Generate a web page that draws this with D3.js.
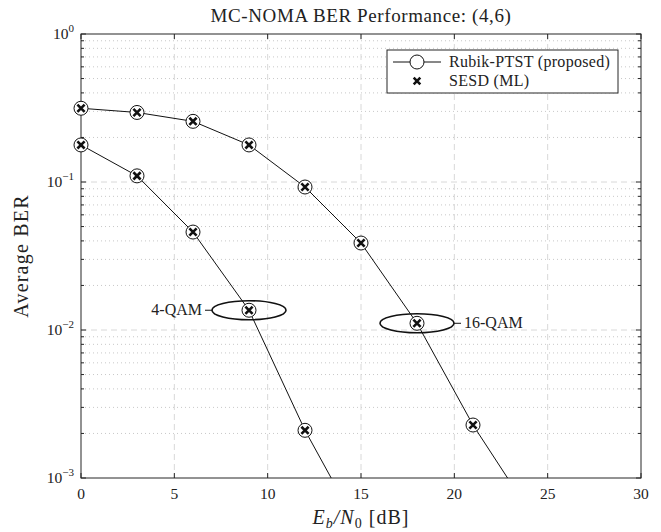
<!DOCTYPE html>
<html>
<head>
<script src="https://d3js.org/d3.v7.min.js"></script>
<style>
  body { margin: 0; background: #fff; }
  text { font-family: "Liberation Serif", "DejaVu Serif", serif; fill: #222; }
</style>
</head>
<body>
<svg width="661" height="532" id="mainSvg"></svg>
<script>
// data
const snr = [0, 3, 6, 9, 12, 15, 18, 21, 24];
const ber4qam = [0.178, 0.110, 0.0459, 0.0136, 0.0021, 0.00043];
const ber16qam = [0.315, 0.295, 0.257, 0.178, 0.0925, 0.0387, 0.0111, 0.00228, 0.0006];
const xTicks = [0, 5, 10, 15, 20, 25, 30];
const yDecades = [-3, -2, -1, 0];
const legendLabels = ["Rubik-PTST (proposed)", "SESD (ML)"];
// ellipse annotations: [snr, ber, label, side]
const notes = [[9, 0.0136, "4-QAM", "left"], [18, 0.0111, "16-QAM", "right"]];

const svg = d3.select("#mainSvg");
const margin = { top: 34, right: 20, bottom: 54, left: 81 };
const width = 661 - margin.left - margin.right;
const height = 532 - margin.top - margin.bottom;

const x = d3.scaleLinear().domain([0, 30]).range([margin.left, margin.left + width]);
const y = d3.scaleLog().domain([1e-3, 1]).range([margin.top + height, margin.top]);

svg.append("clipPath").attr("id", "clip")
  .append("rect").attr("x", margin.left).attr("y", margin.top)
  .attr("width", width).attr("height", height);

const grid = svg.append("g");
// minor y grid
const minorY = [];
yDecades.slice(0, 3).forEach(d => { for (let k = 2; k <= 9; k++) minorY.push(k * Math.pow(10, d)); });
grid.selectAll(".minY").data(minorY).join("line")
  .attr("x1", margin.left).attr("x2", margin.left + width)
  .attr("y1", d => y(d)).attr("y2", d => y(d))
  .attr("stroke", "#c8c8c8").attr("stroke-width", 1).attr("stroke-dasharray", "1,3");
// major y grid
grid.selectAll(".majY").data(yDecades.slice(1, 3)).join("line")
  .attr("x1", margin.left).attr("x2", margin.left + width)
  .attr("y1", d => y(Math.pow(10, d))).attr("y2", d => y(Math.pow(10, d)))
  .attr("stroke", "#d8d8d8").attr("stroke-width", 1).attr("stroke-dasharray", "6,4");
// major x grid
grid.selectAll(".majX").data(xTicks.slice(1, -1)).join("line")
  .attr("x1", d => x(d)).attr("x2", d => x(d))
  .attr("y1", margin.top).attr("y2", margin.top + height)
  .attr("stroke", "#d8d8d8").attr("stroke-width", 1).attr("stroke-dasharray", "6,4");

// axes box and ticks
const ax = svg.append("g").attr("stroke", "#262626").attr("stroke-width", 1);
ax.append("rect").attr("x", margin.left).attr("y", margin.top)
  .attr("width", width).attr("height", height).attr("fill", "none");
xTicks.forEach(t => {
  ax.append("line").attr("x1", x(t)).attr("x2", x(t)).attr("y1", margin.top + height).attr("y2", margin.top + height - 5);
  ax.append("line").attr("x1", x(t)).attr("x2", x(t)).attr("y1", margin.top).attr("y2", margin.top + 5);
});
yDecades.forEach(d => {
  const yy = y(Math.pow(10, d));
  ax.append("line").attr("x1", margin.left).attr("x2", margin.left + 5).attr("y1", yy).attr("y2", yy);
  ax.append("line").attr("x1", margin.left + width).attr("x2", margin.left + width - 5).attr("y1", yy).attr("y2", yy);
});
minorY.forEach(v => {
  const yy = y(v);
  ax.append("line").attr("x1", margin.left).attr("x2", margin.left + 3).attr("y1", yy).attr("y2", yy);
  ax.append("line").attr("x1", margin.left + width).attr("x2", margin.left + width - 3).attr("y1", yy).attr("y2", yy);
});

// tick labels
svg.selectAll(".xl").data(xTicks).join("text")
  .attr("x", d => x(d)).attr("y", margin.top + height + 21)
  .attr("text-anchor", "middle").attr("font-size", 15.5).text(d => d);
const yl = svg.selectAll(".yl").data(yDecades).join("text")
  .attr("x", margin.left - 7).attr("y", d => y(Math.pow(10, d)) + 5)
  .attr("text-anchor", "end").attr("font-size", 15.5);
yl.append("tspan").text("10");
yl.append("tspan").attr("dy", -7).attr("font-size", 11).text(d => d === 0 ? "0" : "\u2212" + (-d));

// title and axis labels
svg.append("text").attr("x", margin.left + width / 2).attr("y", 22)
  .attr("text-anchor", "middle").attr("font-size", 19).attr("letter-spacing", 0.6)
  .text("MC-NOMA BER Performance: (4,6)");
const xl = svg.append("text").attr("x", margin.left + width / 2).attr("y", 524)
  .attr("text-anchor", "middle").attr("font-size", 20).attr("letter-spacing", 1);
xl.append("tspan").attr("font-style", "italic").text("E");
xl.append("tspan").attr("font-style", "italic").attr("font-size", 14).attr("dy", 4).text("b");
xl.append("tspan").attr("dy", -4).attr("font-style", "italic").text("/N");
xl.append("tspan").attr("font-size", 14).attr("dy", 4).text("0");
xl.append("tspan").attr("dy", -4).text(" [dB]");
svg.append("text").attr("transform", `translate(28,${margin.top + height / 2}) rotate(-90)`)
  .attr("text-anchor", "middle").attr("font-size", 20).attr("letter-spacing", 1.2)
  .text("Average BER");

// curves
const plot = svg.append("g").attr("clip-path", "url(#clip)");
const line = d3.line().x(d => x(d[0])).y(d => y(d[1]));
const series = [ber4qam, ber16qam].map(s => s.map((v, i) => [snr[i], v]));
series.forEach(s => {
  plot.append("path").datum(s).attr("d", line)
    .attr("fill", "none").attr("stroke", "#111").attr("stroke-width", 1);
});
const visible = series.flat().filter(d => d[1] >= 1e-3);
const cross = (g, cx, cy, r) => {
  g.append("path").attr("d", `M${cx - r},${cy - r}L${cx + r},${cy + r}M${cx - r},${cy + r}L${cx + r},${cy - r}`)
    .attr("stroke", "#111").attr("stroke-width", 2.6).attr("fill", "none");
};
visible.forEach(d => {
  svg.append("circle").attr("cx", x(d[0])).attr("cy", y(d[1])).attr("r", 7)
    .attr("fill", "#fff").attr("stroke", "#111").attr("stroke-width", 1);
  cross(svg, x(d[0]), y(d[1]), 3.6);
});

// ellipse annotations
notes.forEach(n => {
  const cx = x(n[0]), cy = y(n[1]);
  svg.append("ellipse").attr("cx", cx).attr("cy", cy).attr("rx", 37).attr("ry", 9.5)
    .attr("fill", "none").attr("stroke", "#111").attr("stroke-width", 1.6);
  const dir = n[3] === "left" ? -1 : 1;
  svg.append("line").attr("x1", cx + dir * 37).attr("x2", cx + dir * 44)
    .attr("y1", cy).attr("y2", cy).attr("stroke", "#111").attr("stroke-width", 1);
  svg.append("text").attr("x", cx + dir * 47).attr("y", cy + 5)
    .attr("text-anchor", dir < 0 ? "end" : "start").attr("font-size", 16).text(n[2]);
});

// legend
const lg = svg.append("g");
lg.append("rect").attr("x", 387).attr("y", 50).attr("width", 231).attr("height", 43)
  .attr("fill", "#fff").attr("stroke", "#262626").attr("stroke-width", 1);
lg.append("line").attr("x1", 393).attr("x2", 441).attr("y1", 62).attr("y2", 62)
  .attr("stroke", "#111").attr("stroke-width", 1);
lg.append("circle").attr("cx", 417).attr("cy", 62).attr("r", 7)
  .attr("fill", "#fff").attr("stroke", "#111").attr("stroke-width", 1);
cross(lg, 417, 81, 3.3);
lg.selectAll(".lt").data(legendLabels).join("text")
  .attr("x", 449).attr("y", (d, i) => 67 + i * 19).attr("font-size", 16).attr("letter-spacing", 0.3)
  .text(d => d);
</script>
</body>
</html>
